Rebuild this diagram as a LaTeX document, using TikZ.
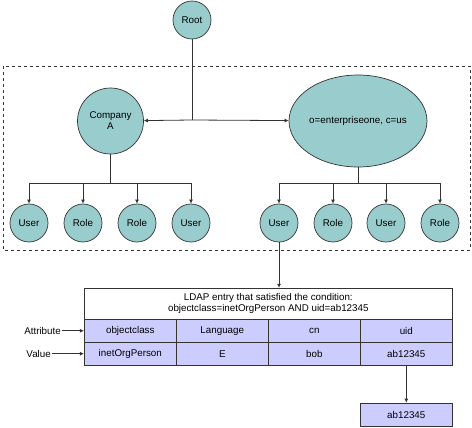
\documentclass[tikz,border=0pt]{standalone}
\usepackage{fontspec}
\setmainfont{Liberation Sans}
\usetikzlibrary{arrows.meta,shapes.geometric}

\definecolor{nodeteal}{HTML}{99CCCC}
\definecolor{cellblue}{HTML}{CCCCFF}
\definecolor{lineg}{HTML}{333333}

\tikzset{
  treenode/.style={circle,draw=lineg,fill=nodeteal,line width=0.7pt,inner sep=0pt,minimum size=38pt,font=\fontsize{9.8}{11}\selectfont},
  cell/.style={rectangle,draw=lineg,fill=cellblue,line width=0.7pt,minimum width=92pt,minimum height=23pt,inner sep=0pt,font=\fontsize{9.8}{11}\selectfont},
  conn/.style={line width=0.8pt,draw=lineg},
  tip/.style={-{Latex[length=4pt,width=4pt]}}
}

\begin{document}
\begin{tikzpicture}[x=1pt,y=-1pt]
\useasboundingbox (0,0) rectangle (472,428);
% top of the tree
\node[treenode] (root) at (192,20) {Root};
\draw[dashed,line width=0.6pt,lineg] (3,66) rectangle (470,250);
\node[treenode,minimum size=66pt,align=center] (compA) at (110.5,121) {Company\\A};
\node[treenode,ellipse,minimum width=138pt,minimum height=92pt] (ent) at (358,121) {o=enterpriseone, c=us};
\draw[conn] (root) -- (192,120) coordinate (fork);
\draw[conn,tip] (fork) -- (compA);
\draw[conn,tip] (fork) -- (ent);
% children
\foreach \x/\t [count=\i] in {29/User,83/Role,137/Role,191/User}{
  \node[treenode] (cl\i) at (\x,223) {\t};
  \draw[conn,tip] (compA.south) -- (110.5,183) -| (cl\i);
}
\foreach \x/\t [count=\i] in {279/User,333/Role,386/User,440/Role}{
  \node[treenode] (cr\i) at (\x,223) {\t};
  \draw[conn,tip] (ent.south) -- (358,183) -| (cr\i);
}
% the entry
\node[cell,fill=white,minimum width=368pt,minimum height=31pt,align=center] (entry) at (268.3,303.7)
  {LDAP entry that satisfied the condition:\\objectclass=inetOrgPerson AND uid=ab12345};
\foreach \x/\a/\v [count=\i] in {130.3/objectclass/inetOrgPerson,222.3/Language/E,314.3/cn/bob,406.3/uid/ab12345}{
  \node[cell] (attr\i) at (\x,330.8) {\a};
  \node[cell] (val\i) at (\x,353.7) {\v};
}
\draw[conn,tip] (cr1) -- (entry.north -| cr1);
\node[font=\fontsize{9.8}{11}\selectfont,anchor=east,inner sep=1pt] (attrlbl) at (62,330.8) {Attribute};
\node[font=\fontsize{9.8}{11}\selectfont,anchor=east,inner sep=1pt] (vallbl) at (52,353.7) {Value};
\draw[conn,tip] (attrlbl) -- (attr1);
\draw[conn,tip] (vallbl) -- (val1);
\node[cell] (result) at (406.3,414.5) {ab12345};
\draw[conn,tip] (val4) -- (result);
\end{tikzpicture}
\end{document}
